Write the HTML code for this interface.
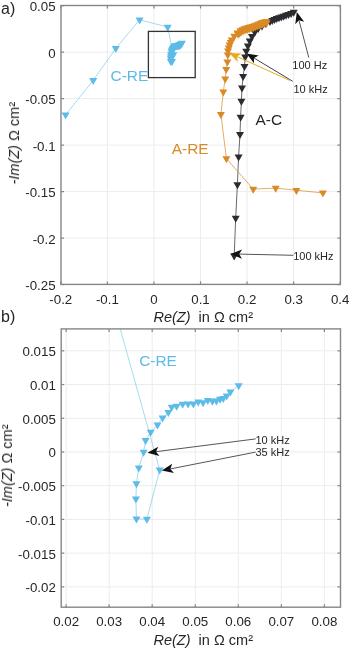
<!DOCTYPE html><html><head><meta charset="utf-8"><style>html,body{margin:0;padding:0;background:#fff;}svg{display:block}text{will-change:transform}text{font-family:"Liberation Sans",sans-serif;fill:#262626}.tk{font-size:13.3px}.al{font-size:14.5px}.an{font-size:11px}.cl{font-size:15.4px}.pl{font-size:16px}</style></head><body>
<svg width="350" height="650" viewBox="0 0 350 650">
<rect width="350" height="650" fill="#fff"/>
<defs><clipPath id="ca"><rect x="61.0" y="5.5" width="279.40" height="278.90"/></clipPath><clipPath id="cb"><rect x="61.2" y="328.9" width="279.30" height="278.30"/></clipPath></defs>
<line x1="107.37" y1="5.5" x2="107.37" y2="284.4" stroke="#ececec" stroke-width="1"/>
<line x1="153.94" y1="5.5" x2="153.94" y2="284.4" stroke="#ececec" stroke-width="1"/>
<line x1="200.51" y1="5.5" x2="200.51" y2="284.4" stroke="#ececec" stroke-width="1"/>
<line x1="247.08" y1="5.5" x2="247.08" y2="284.4" stroke="#ececec" stroke-width="1"/>
<line x1="293.65" y1="5.5" x2="293.65" y2="284.4" stroke="#ececec" stroke-width="1"/>
<line x1="61.0" y1="52.16" x2="340.4" y2="52.16" stroke="#ececec" stroke-width="1"/>
<line x1="61.0" y1="98.65" x2="340.4" y2="98.65" stroke="#ececec" stroke-width="1"/>
<line x1="61.0" y1="145.13" x2="340.4" y2="145.13" stroke="#ececec" stroke-width="1"/>
<line x1="61.0" y1="191.62" x2="340.4" y2="191.62" stroke="#ececec" stroke-width="1"/>
<line x1="61.0" y1="238.10" x2="340.4" y2="238.10" stroke="#ececec" stroke-width="1"/>
<line x1="66.12" y1="328.9" x2="66.12" y2="607.2" stroke="#ececec" stroke-width="1"/>
<line x1="109.16" y1="328.9" x2="109.16" y2="607.2" stroke="#ececec" stroke-width="1"/>
<line x1="152.20" y1="328.9" x2="152.20" y2="607.2" stroke="#ececec" stroke-width="1"/>
<line x1="195.25" y1="328.9" x2="195.25" y2="607.2" stroke="#ececec" stroke-width="1"/>
<line x1="238.29" y1="328.9" x2="238.29" y2="607.2" stroke="#ececec" stroke-width="1"/>
<line x1="281.33" y1="328.9" x2="281.33" y2="607.2" stroke="#ececec" stroke-width="1"/>
<line x1="324.37" y1="328.9" x2="324.37" y2="607.2" stroke="#ececec" stroke-width="1"/>
<line x1="61.2" y1="350.82" x2="340.5" y2="350.82" stroke="#ececec" stroke-width="1"/>
<line x1="61.2" y1="384.54" x2="340.5" y2="384.54" stroke="#ececec" stroke-width="1"/>
<line x1="61.2" y1="418.26" x2="340.5" y2="418.26" stroke="#ececec" stroke-width="1"/>
<line x1="61.2" y1="451.98" x2="340.5" y2="451.98" stroke="#ececec" stroke-width="1"/>
<line x1="61.2" y1="485.70" x2="340.5" y2="485.70" stroke="#ececec" stroke-width="1"/>
<line x1="61.2" y1="519.42" x2="340.5" y2="519.42" stroke="#ececec" stroke-width="1"/>
<line x1="61.2" y1="553.14" x2="340.5" y2="553.14" stroke="#ececec" stroke-width="1"/>
<line x1="61.2" y1="586.86" x2="340.5" y2="586.86" stroke="#ececec" stroke-width="1"/>
<g clip-path="url(#ca)">
<polyline points="234.20,255.83 235.70,218.13 237.40,184.53 238.60,156.73 240.00,134.33 240.60,117.03 241.40,101.13 242.00,87.93 243.10,76.23 244.50,66.43 245.20,56.83 246.30,51.13 247.90,45.83 249.80,40.83 252.00,36.33 254.80,32.13 258.20,28.43 262.00,25.83 266.00,23.43 270.00,21.23 272.25,20.28 274.50,19.33 276.75,18.43 279.00,17.53 281.30,16.78 283.60,16.03 286.05,15.18 288.50,14.33 291.10,13.23 293.70,12.13" fill="none" stroke="#2b2b30" stroke-width="1.0" stroke-opacity="0.7" stroke-linejoin="round"/>
<path d="M230.20 253.50H238.20L234.20 260.50Z" fill="#2b2b30"/>
<path d="M231.70 215.80H239.70L235.70 222.80Z" fill="#2b2b30"/>
<path d="M233.40 182.20H241.40L237.40 189.20Z" fill="#2b2b30"/>
<path d="M234.60 154.40H242.60L238.60 161.40Z" fill="#2b2b30"/>
<path d="M236.00 132.00H244.00L240.00 139.00Z" fill="#2b2b30"/>
<path d="M236.60 114.70H244.60L240.60 121.70Z" fill="#2b2b30"/>
<path d="M237.40 98.80H245.40L241.40 105.80Z" fill="#2b2b30"/>
<path d="M238.00 85.60H246.00L242.00 92.60Z" fill="#2b2b30"/>
<path d="M239.10 73.90H247.10L243.10 80.90Z" fill="#2b2b30"/>
<path d="M240.50 64.10H248.50L244.50 71.10Z" fill="#2b2b30"/>
<path d="M241.20 54.50H249.20L245.20 61.50Z" fill="#2b2b30"/>
<path d="M242.30 48.80H250.30L246.30 55.80Z" fill="#2b2b30"/>
<path d="M243.90 43.50H251.90L247.90 50.50Z" fill="#2b2b30"/>
<path d="M245.80 38.50H253.80L249.80 45.50Z" fill="#2b2b30"/>
<path d="M248.00 34.00H256.00L252.00 41.00Z" fill="#2b2b30"/>
<path d="M250.80 29.80H258.80L254.80 36.80Z" fill="#2b2b30"/>
<path d="M254.20 26.10H262.20L258.20 33.10Z" fill="#2b2b30"/>
<path d="M258.00 23.50H266.00L262.00 30.50Z" fill="#2b2b30"/>
<path d="M262.00 21.10H270.00L266.00 28.10Z" fill="#2b2b30"/>
<path d="M266.00 18.90H274.00L270.00 25.90Z" fill="#2b2b30"/>
<path d="M268.25 17.95H276.25L272.25 24.95Z" fill="#2b2b30"/>
<path d="M270.50 17.00H278.50L274.50 24.00Z" fill="#2b2b30"/>
<path d="M272.75 16.10H280.75L276.75 23.10Z" fill="#2b2b30"/>
<path d="M275.00 15.20H283.00L279.00 22.20Z" fill="#2b2b30"/>
<path d="M277.30 14.45H285.30L281.30 21.45Z" fill="#2b2b30"/>
<path d="M279.60 13.70H287.60L283.60 20.70Z" fill="#2b2b30"/>
<path d="M282.05 12.85H290.05L286.05 19.85Z" fill="#2b2b30"/>
<path d="M284.50 12.00H292.50L288.50 19.00Z" fill="#2b2b30"/>
<path d="M287.10 10.90H295.10L291.10 17.90Z" fill="#2b2b30"/>
<path d="M289.70 9.80H297.70L293.70 16.80Z" fill="#2b2b30"/>
<polyline points="322.90,192.93 296.40,190.23 275.70,188.13 253.20,189.13 226.40,158.53 220.90,114.33 223.30,91.83 225.20,78.83 226.20,69.33 227.40,61.73 227.80,54.83 228.00,50.83 228.80,47.83 229.60,44.83 230.65,42.33 231.70,39.83 234.30,36.13 237.50,32.83 240.50,30.63 242.50,29.63 244.50,28.63 246.50,28.03 248.50,27.43 250.50,26.83 252.50,26.23 254.50,25.53 256.50,24.83 258.50,24.03 260.50,23.23 262.00,22.63 263.50,22.03 266.00,21.43" fill="none" stroke="#d98a26" stroke-width="1.0" stroke-opacity="0.7" stroke-linejoin="round"/>
<path d="M318.90 190.60H326.90L322.90 197.60Z" fill="#d98a26"/>
<path d="M292.40 187.90H300.40L296.40 194.90Z" fill="#d98a26"/>
<path d="M271.70 185.80H279.70L275.70 192.80Z" fill="#d98a26"/>
<path d="M249.20 186.80H257.20L253.20 193.80Z" fill="#d98a26"/>
<path d="M222.40 156.20H230.40L226.40 163.20Z" fill="#d98a26"/>
<path d="M216.90 112.00H224.90L220.90 119.00Z" fill="#d98a26"/>
<path d="M219.30 89.50H227.30L223.30 96.50Z" fill="#d98a26"/>
<path d="M221.20 76.50H229.20L225.20 83.50Z" fill="#d98a26"/>
<path d="M222.20 67.00H230.20L226.20 74.00Z" fill="#d98a26"/>
<path d="M223.40 59.40H231.40L227.40 66.40Z" fill="#d98a26"/>
<path d="M223.80 52.50H231.80L227.80 59.50Z" fill="#d98a26"/>
<path d="M224.00 48.50H232.00L228.00 55.50Z" fill="#d98a26"/>
<path d="M224.80 45.50H232.80L228.80 52.50Z" fill="#d98a26"/>
<path d="M225.60 42.50H233.60L229.60 49.50Z" fill="#d98a26"/>
<path d="M226.65 40.00H234.65L230.65 47.00Z" fill="#d98a26"/>
<path d="M227.70 37.50H235.70L231.70 44.50Z" fill="#d98a26"/>
<path d="M230.30 33.80H238.30L234.30 40.80Z" fill="#d98a26"/>
<path d="M233.50 30.50H241.50L237.50 37.50Z" fill="#d98a26"/>
<path d="M236.50 28.30H244.50L240.50 35.30Z" fill="#d98a26"/>
<path d="M238.50 27.30H246.50L242.50 34.30Z" fill="#d98a26"/>
<path d="M240.50 26.30H248.50L244.50 33.30Z" fill="#d98a26"/>
<path d="M242.50 25.70H250.50L246.50 32.70Z" fill="#d98a26"/>
<path d="M244.50 25.10H252.50L248.50 32.10Z" fill="#d98a26"/>
<path d="M246.50 24.50H254.50L250.50 31.50Z" fill="#d98a26"/>
<path d="M248.50 23.90H256.50L252.50 30.90Z" fill="#d98a26"/>
<path d="M250.50 23.20H258.50L254.50 30.20Z" fill="#d98a26"/>
<path d="M252.50 22.50H260.50L256.50 29.50Z" fill="#d98a26"/>
<path d="M254.50 21.70H262.50L258.50 28.70Z" fill="#d98a26"/>
<path d="M256.50 20.90H264.50L260.50 27.90Z" fill="#d98a26"/>
<path d="M258.00 20.30H266.00L262.00 27.30Z" fill="#d98a26"/>
<path d="M259.50 19.70H267.50L263.50 26.70Z" fill="#d98a26"/>
<path d="M262.00 19.10H270.00L266.00 26.10Z" fill="#d98a26"/>
<path d="M234.10 31.80H242.10L238.10 38.80Z" fill="#d98a26"/>
<path d="M235.60 30.70H243.60L239.60 37.70Z" fill="#d98a26"/>
<path d="M237.10 29.60H245.10L241.10 36.60Z" fill="#d98a26"/>
<path d="M239.10 28.60H247.10L243.10 35.60Z" fill="#d98a26"/>
<path d="M241.10 27.60H249.10L245.10 34.60Z" fill="#d98a26"/>
<path d="M243.10 27.00H251.10L247.10 34.00Z" fill="#d98a26"/>
<path d="M245.10 26.40H253.10L249.10 33.40Z" fill="#d98a26"/>
<path d="M247.10 25.80H255.10L251.10 32.80Z" fill="#d98a26"/>
<path d="M249.10 25.20H257.10L253.10 32.20Z" fill="#d98a26"/>
<path d="M251.10 24.50H259.10L255.10 31.50Z" fill="#d98a26"/>
<path d="M253.10 23.80H261.10L257.10 30.80Z" fill="#d98a26"/>
<path d="M255.10 23.00H263.10L259.10 30.00Z" fill="#d98a26"/>
<path d="M257.10 22.20H265.10L261.10 29.20Z" fill="#d98a26"/>
<path d="M258.60 21.60H266.60L262.60 28.60Z" fill="#d98a26"/>
<path d="M260.10 21.00H268.10L264.10 28.00Z" fill="#d98a26"/>
<path d="M262.60 20.40H270.60L266.60 27.40Z" fill="#d98a26"/>
<polyline points="65.60,114.83 93.20,80.33 115.80,48.33 139.60,19.83 167.70,27.03 173.38,54.63 171.99,61.42 170.86,61.36 170.80,58.61 170.86,56.51 171.12,54.33 171.64,52.18 171.85,50.54 172.41,49.42 173.14,48.40 173.69,47.45 174.31,46.68 174.68,45.98 175.21,45.84 175.86,45.56 176.45,45.54 177.03,45.51 177.55,45.26 178.08,45.34 178.58,45.05 179.08,45.15 179.51,45.10 179.90,44.87 180.26,44.76 180.63,44.41 181.03,43.88 181.93,43.01" fill="none" stroke="#5dbbe8" stroke-width="1.0" stroke-opacity="0.55" stroke-linejoin="round"/>
<path d="M61.60 112.50H69.60L65.60 119.50Z" fill="#5dbbe8"/>
<path d="M89.20 78.00H97.20L93.20 85.00Z" fill="#5dbbe8"/>
<path d="M111.80 46.00H119.80L115.80 53.00Z" fill="#5dbbe8"/>
<path d="M135.60 17.50H143.60L139.60 24.50Z" fill="#5dbbe8"/>
<path d="M163.70 24.70H171.70L167.70 31.70Z" fill="#5dbbe8"/>
<path d="M169.38 52.30H177.38L173.38 59.30Z" fill="#5dbbe8"/>
<path d="M167.99 59.08H175.99L171.99 66.08Z" fill="#5dbbe8"/>
<path d="M166.86 59.03H174.86L170.86 66.03Z" fill="#5dbbe8"/>
<path d="M166.80 56.27H174.80L170.80 63.27Z" fill="#5dbbe8"/>
<path d="M166.86 54.18H174.86L170.86 61.18Z" fill="#5dbbe8"/>
<path d="M167.12 52.00H175.12L171.12 59.00Z" fill="#5dbbe8"/>
<path d="M167.64 49.85H175.64L171.64 56.85Z" fill="#5dbbe8"/>
<path d="M167.85 48.21H175.85L171.85 55.21Z" fill="#5dbbe8"/>
<path d="M168.41 47.09H176.41L172.41 54.09Z" fill="#5dbbe8"/>
<path d="M169.14 46.07H177.14L173.14 53.07Z" fill="#5dbbe8"/>
<path d="M169.69 45.12H177.69L173.69 52.12Z" fill="#5dbbe8"/>
<path d="M170.31 44.35H178.31L174.31 51.35Z" fill="#5dbbe8"/>
<path d="M170.68 43.64H178.68L174.68 50.64Z" fill="#5dbbe8"/>
<path d="M171.21 43.51H179.21L175.21 50.51Z" fill="#5dbbe8"/>
<path d="M171.86 43.23H179.86L175.86 50.23Z" fill="#5dbbe8"/>
<path d="M172.45 43.20H180.45L176.45 50.20Z" fill="#5dbbe8"/>
<path d="M173.03 43.18H181.03L177.03 50.18Z" fill="#5dbbe8"/>
<path d="M173.55 42.93H181.55L177.55 49.93Z" fill="#5dbbe8"/>
<path d="M174.08 43.01H182.08L178.08 50.01Z" fill="#5dbbe8"/>
<path d="M174.58 42.72H182.58L178.58 49.72Z" fill="#5dbbe8"/>
<path d="M175.08 42.82H183.08L179.08 49.82Z" fill="#5dbbe8"/>
<path d="M175.51 42.76H183.51L179.51 49.76Z" fill="#5dbbe8"/>
<path d="M175.90 42.54H183.90L179.90 49.54Z" fill="#5dbbe8"/>
<path d="M176.26 42.43H184.26L180.26 49.43Z" fill="#5dbbe8"/>
<path d="M176.63 42.07H184.63L180.63 49.07Z" fill="#5dbbe8"/>
<path d="M177.03 41.55H185.03L181.03 48.55Z" fill="#5dbbe8"/>
<path d="M177.93 40.68H185.93L181.93 47.68Z" fill="#5dbbe8"/>
</g>
<rect x="148.4" y="31.4" width="46.8" height="46.2" fill="none" stroke="#333" stroke-width="1.3"/>
<g clip-path="url(#cb)">
<polyline points="120.00,328.00 159.70,469.93 146.90,519.13 136.40,518.73 135.90,498.73 136.40,483.53 138.80,467.73 143.60,452.13 145.60,440.23 150.70,432.13 157.50,424.73 162.60,417.83 168.30,412.23 171.70,407.13 176.60,406.13 182.60,404.13 188.10,403.93 193.40,403.73 198.20,401.93 203.10,402.53 207.80,400.43 212.40,401.13 216.40,400.73 220.00,399.13 223.30,398.33 226.70,395.73 230.40,391.93 238.70,385.63" fill="none" stroke="#5dbbe8" stroke-width="1.0" stroke-opacity="0.55" stroke-linejoin="round"/>
<path d="M155.70 467.60H163.70L159.70 474.60Z" fill="#5dbbe8"/>
<path d="M142.90 516.80H150.90L146.90 523.80Z" fill="#5dbbe8"/>
<path d="M132.40 516.40H140.40L136.40 523.40Z" fill="#5dbbe8"/>
<path d="M131.90 496.40H139.90L135.90 503.40Z" fill="#5dbbe8"/>
<path d="M132.40 481.20H140.40L136.40 488.20Z" fill="#5dbbe8"/>
<path d="M134.80 465.40H142.80L138.80 472.40Z" fill="#5dbbe8"/>
<path d="M139.60 449.80H147.60L143.60 456.80Z" fill="#5dbbe8"/>
<path d="M141.60 437.90H149.60L145.60 444.90Z" fill="#5dbbe8"/>
<path d="M146.70 429.80H154.70L150.70 436.80Z" fill="#5dbbe8"/>
<path d="M153.50 422.40H161.50L157.50 429.40Z" fill="#5dbbe8"/>
<path d="M158.60 415.50H166.60L162.60 422.50Z" fill="#5dbbe8"/>
<path d="M164.30 409.90H172.30L168.30 416.90Z" fill="#5dbbe8"/>
<path d="M167.70 404.80H175.70L171.70 411.80Z" fill="#5dbbe8"/>
<path d="M172.60 403.80H180.60L176.60 410.80Z" fill="#5dbbe8"/>
<path d="M178.60 401.80H186.60L182.60 408.80Z" fill="#5dbbe8"/>
<path d="M184.10 401.60H192.10L188.10 408.60Z" fill="#5dbbe8"/>
<path d="M189.40 401.40H197.40L193.40 408.40Z" fill="#5dbbe8"/>
<path d="M194.20 399.60H202.20L198.20 406.60Z" fill="#5dbbe8"/>
<path d="M199.10 400.20H207.10L203.10 407.20Z" fill="#5dbbe8"/>
<path d="M203.80 398.10H211.80L207.80 405.10Z" fill="#5dbbe8"/>
<path d="M208.40 398.80H216.40L212.40 405.80Z" fill="#5dbbe8"/>
<path d="M212.40 398.40H220.40L216.40 405.40Z" fill="#5dbbe8"/>
<path d="M216.00 396.80H224.00L220.00 403.80Z" fill="#5dbbe8"/>
<path d="M219.30 396.00H227.30L223.30 403.00Z" fill="#5dbbe8"/>
<path d="M222.70 393.40H230.70L226.70 400.40Z" fill="#5dbbe8"/>
<path d="M226.40 389.60H234.40L230.40 396.60Z" fill="#5dbbe8"/>
<path d="M234.70 383.30H242.70L238.70 390.30Z" fill="#5dbbe8"/>
</g>
<rect x="61.0" y="5.5" width="279.40" height="278.90" fill="none" stroke="#858585" stroke-width="1.4"/>
<line x1="60.80" y1="284.4" x2="60.80" y2="281.4" stroke="#858585" stroke-width="1.2"/>
<line x1="60.80" y1="5.5" x2="60.80" y2="8.5" stroke="#858585" stroke-width="1.2"/>
<text x="60.80" y="303.7" text-anchor="middle" class="tk">-0.2</text>
<line x1="107.37" y1="284.4" x2="107.37" y2="281.4" stroke="#858585" stroke-width="1.2"/>
<line x1="107.37" y1="5.5" x2="107.37" y2="8.5" stroke="#858585" stroke-width="1.2"/>
<text x="107.37" y="303.7" text-anchor="middle" class="tk">-0.1</text>
<line x1="153.94" y1="284.4" x2="153.94" y2="281.4" stroke="#858585" stroke-width="1.2"/>
<line x1="153.94" y1="5.5" x2="153.94" y2="8.5" stroke="#858585" stroke-width="1.2"/>
<text x="153.94" y="303.7" text-anchor="middle" class="tk">0</text>
<line x1="200.51" y1="284.4" x2="200.51" y2="281.4" stroke="#858585" stroke-width="1.2"/>
<line x1="200.51" y1="5.5" x2="200.51" y2="8.5" stroke="#858585" stroke-width="1.2"/>
<text x="200.51" y="303.7" text-anchor="middle" class="tk">0.1</text>
<line x1="247.08" y1="284.4" x2="247.08" y2="281.4" stroke="#858585" stroke-width="1.2"/>
<line x1="247.08" y1="5.5" x2="247.08" y2="8.5" stroke="#858585" stroke-width="1.2"/>
<text x="247.08" y="303.7" text-anchor="middle" class="tk">0.2</text>
<line x1="293.65" y1="284.4" x2="293.65" y2="281.4" stroke="#858585" stroke-width="1.2"/>
<line x1="293.65" y1="5.5" x2="293.65" y2="8.5" stroke="#858585" stroke-width="1.2"/>
<text x="293.65" y="303.7" text-anchor="middle" class="tk">0.3</text>
<line x1="340.22" y1="284.4" x2="340.22" y2="281.4" stroke="#858585" stroke-width="1.2"/>
<line x1="340.22" y1="5.5" x2="340.22" y2="8.5" stroke="#858585" stroke-width="1.2"/>
<text x="340.22" y="303.7" text-anchor="middle" class="tk">0.4</text>
<line x1="61.0" y1="5.67" x2="64.0" y2="5.67" stroke="#858585" stroke-width="1.2"/>
<line x1="340.4" y1="5.67" x2="337.4" y2="5.67" stroke="#858585" stroke-width="1.2"/>
<text x="55.60" y="11.07" text-anchor="end" class="tk">0.05</text>
<line x1="61.0" y1="52.16" x2="64.0" y2="52.16" stroke="#858585" stroke-width="1.2"/>
<line x1="340.4" y1="52.16" x2="337.4" y2="52.16" stroke="#858585" stroke-width="1.2"/>
<text x="55.60" y="57.56" text-anchor="end" class="tk">0</text>
<line x1="61.0" y1="98.65" x2="64.0" y2="98.65" stroke="#858585" stroke-width="1.2"/>
<line x1="340.4" y1="98.65" x2="337.4" y2="98.65" stroke="#858585" stroke-width="1.2"/>
<text x="55.60" y="104.05" text-anchor="end" class="tk">-0.05</text>
<line x1="61.0" y1="145.13" x2="64.0" y2="145.13" stroke="#858585" stroke-width="1.2"/>
<line x1="340.4" y1="145.13" x2="337.4" y2="145.13" stroke="#858585" stroke-width="1.2"/>
<text x="55.60" y="150.53" text-anchor="end" class="tk">-0.1</text>
<line x1="61.0" y1="191.62" x2="64.0" y2="191.62" stroke="#858585" stroke-width="1.2"/>
<line x1="340.4" y1="191.62" x2="337.4" y2="191.62" stroke="#858585" stroke-width="1.2"/>
<text x="55.60" y="197.02" text-anchor="end" class="tk">-0.15</text>
<line x1="61.0" y1="238.10" x2="64.0" y2="238.10" stroke="#858585" stroke-width="1.2"/>
<line x1="340.4" y1="238.10" x2="337.4" y2="238.10" stroke="#858585" stroke-width="1.2"/>
<text x="55.60" y="243.50" text-anchor="end" class="tk">-0.2</text>
<line x1="61.0" y1="284.59" x2="64.0" y2="284.59" stroke="#858585" stroke-width="1.2"/>
<line x1="340.4" y1="284.59" x2="337.4" y2="284.59" stroke="#858585" stroke-width="1.2"/>
<text x="55.60" y="289.99" text-anchor="end" class="tk">-0.25</text>
<rect x="61.2" y="328.9" width="279.30" height="278.30" fill="none" stroke="#858585" stroke-width="1.4"/>
<line x1="66.12" y1="607.2" x2="66.12" y2="604.2" stroke="#858585" stroke-width="1.2"/>
<line x1="66.12" y1="328.9" x2="66.12" y2="331.9" stroke="#858585" stroke-width="1.2"/>
<text x="66.12" y="626.3" text-anchor="middle" class="tk">0.02</text>
<line x1="109.16" y1="607.2" x2="109.16" y2="604.2" stroke="#858585" stroke-width="1.2"/>
<line x1="109.16" y1="328.9" x2="109.16" y2="331.9" stroke="#858585" stroke-width="1.2"/>
<text x="109.16" y="626.3" text-anchor="middle" class="tk">0.03</text>
<line x1="152.20" y1="607.2" x2="152.20" y2="604.2" stroke="#858585" stroke-width="1.2"/>
<line x1="152.20" y1="328.9" x2="152.20" y2="331.9" stroke="#858585" stroke-width="1.2"/>
<text x="152.20" y="626.3" text-anchor="middle" class="tk">0.04</text>
<line x1="195.25" y1="607.2" x2="195.25" y2="604.2" stroke="#858585" stroke-width="1.2"/>
<line x1="195.25" y1="328.9" x2="195.25" y2="331.9" stroke="#858585" stroke-width="1.2"/>
<text x="195.25" y="626.3" text-anchor="middle" class="tk">0.05</text>
<line x1="238.29" y1="607.2" x2="238.29" y2="604.2" stroke="#858585" stroke-width="1.2"/>
<line x1="238.29" y1="328.9" x2="238.29" y2="331.9" stroke="#858585" stroke-width="1.2"/>
<text x="238.29" y="626.3" text-anchor="middle" class="tk">0.06</text>
<line x1="281.33" y1="607.2" x2="281.33" y2="604.2" stroke="#858585" stroke-width="1.2"/>
<line x1="281.33" y1="328.9" x2="281.33" y2="331.9" stroke="#858585" stroke-width="1.2"/>
<text x="281.33" y="626.3" text-anchor="middle" class="tk">0.07</text>
<line x1="324.37" y1="607.2" x2="324.37" y2="604.2" stroke="#858585" stroke-width="1.2"/>
<line x1="324.37" y1="328.9" x2="324.37" y2="331.9" stroke="#858585" stroke-width="1.2"/>
<text x="324.37" y="626.3" text-anchor="middle" class="tk">0.08</text>
<line x1="61.2" y1="350.82" x2="64.2" y2="350.82" stroke="#858585" stroke-width="1.2"/>
<line x1="340.5" y1="350.82" x2="337.5" y2="350.82" stroke="#858585" stroke-width="1.2"/>
<text x="55.80" y="356.22" text-anchor="end" class="tk">0.015</text>
<line x1="61.2" y1="384.54" x2="64.2" y2="384.54" stroke="#858585" stroke-width="1.2"/>
<line x1="340.5" y1="384.54" x2="337.5" y2="384.54" stroke="#858585" stroke-width="1.2"/>
<text x="55.80" y="389.94" text-anchor="end" class="tk">0.01</text>
<line x1="61.2" y1="418.26" x2="64.2" y2="418.26" stroke="#858585" stroke-width="1.2"/>
<line x1="340.5" y1="418.26" x2="337.5" y2="418.26" stroke="#858585" stroke-width="1.2"/>
<text x="55.80" y="423.66" text-anchor="end" class="tk">0.005</text>
<line x1="61.2" y1="451.98" x2="64.2" y2="451.98" stroke="#858585" stroke-width="1.2"/>
<line x1="340.5" y1="451.98" x2="337.5" y2="451.98" stroke="#858585" stroke-width="1.2"/>
<text x="55.80" y="457.38" text-anchor="end" class="tk">0</text>
<line x1="61.2" y1="485.70" x2="64.2" y2="485.70" stroke="#858585" stroke-width="1.2"/>
<line x1="340.5" y1="485.70" x2="337.5" y2="485.70" stroke="#858585" stroke-width="1.2"/>
<text x="55.80" y="491.10" text-anchor="end" class="tk">-0.005</text>
<line x1="61.2" y1="519.42" x2="64.2" y2="519.42" stroke="#858585" stroke-width="1.2"/>
<line x1="340.5" y1="519.42" x2="337.5" y2="519.42" stroke="#858585" stroke-width="1.2"/>
<text x="55.80" y="524.82" text-anchor="end" class="tk">-0.01</text>
<line x1="61.2" y1="553.14" x2="64.2" y2="553.14" stroke="#858585" stroke-width="1.2"/>
<line x1="340.5" y1="553.14" x2="337.5" y2="553.14" stroke="#858585" stroke-width="1.2"/>
<text x="55.80" y="558.54" text-anchor="end" class="tk">-0.015</text>
<line x1="61.2" y1="586.86" x2="64.2" y2="586.86" stroke="#858585" stroke-width="1.2"/>
<line x1="340.5" y1="586.86" x2="337.5" y2="586.86" stroke="#858585" stroke-width="1.2"/>
<text x="55.80" y="592.26" text-anchor="end" class="tk">-0.02</text>
<text x="1" y="14" class="pl">a)</text>
<text x="1" y="322" class="pl">b)</text>
<text x="153.5" y="321.7" class="al" xml:space="preserve"><tspan font-style="italic">Re(Z)</tspan>  in Ω cm²</text>
<text x="153.5" y="644.7" class="al" xml:space="preserve"><tspan font-style="italic">Re(Z)</tspan>  in Ω cm²</text>
<text transform="translate(19 143.2) rotate(-90)" text-anchor="middle" class="al" xml:space="preserve"><tspan font-style="italic">-Im(Z)</tspan> Ω cm²</text>
<text transform="translate(12 465.7) rotate(-90)" text-anchor="middle" class="al" xml:space="preserve"><tspan font-style="italic">-Im(Z)</tspan> Ω cm²</text>
<text x="110.6" y="81.4" class="cl" style="fill:#5dbbe8">C-RE</text>
<text x="139.2" y="366.4" class="cl" style="fill:#5dbbe8">C-RE</text>
<text x="171.8" y="153.7" class="cl" style="fill:#d98a26">A-RE</text>
<text x="255.5" y="125" class="cl" style="fill:#262626">A-C</text>
<line x1="308.80" y1="57.60" x2="299.01" y2="20.31" stroke="#555" stroke-width="1.0"/><path d="M296.80 11.90L304.17 21.85L299.01 20.31L295.27 24.19Z" fill="#111"/>
<line x1="292.70" y1="81.30" x2="253.95" y2="57.99" stroke="#444" stroke-width="1.0"/><path d="M246.50 53.50L258.73 55.49L253.95 57.99L253.98 63.37Z" fill="#111"/>
<line x1="289.70" y1="80.40" x2="237.13" y2="56.59" stroke="#e8a91f" stroke-width="1.0"/><path d="M229.20 53.00L241.57 53.55L237.13 56.59L237.78 61.93Z" fill="#e8a91f"/>
<line x1="293.40" y1="255.30" x2="239.20" y2="254.09" stroke="#555" stroke-width="1.0"/><path d="M230.50 253.90L242.10 249.56L239.20 254.09L241.89 258.75Z" fill="#111"/>
<text x="292.3" y="68.6" class="an">100 Hz</text>
<text x="293.5" y="92.5" class="an">10 kHz</text>
<text x="293.2" y="260.2" class="an">100 kHz</text>
<line x1="255.70" y1="438.90" x2="156.03" y2="451.69" stroke="#555" stroke-width="1.0"/><path d="M147.40 452.80L158.22 446.77L156.03 451.69L159.39 455.90Z" fill="#111"/>
<line x1="255.70" y1="452.10" x2="170.34" y2="468.92" stroke="#555" stroke-width="1.0"/><path d="M161.80 470.60L172.19 463.86L170.34 468.92L173.97 472.89Z" fill="#111"/>
<text x="255.5" y="443.6" class="an">10 kHz</text>
<text x="255.5" y="455.7" class="an">35 kHz</text>
</svg></body></html>
